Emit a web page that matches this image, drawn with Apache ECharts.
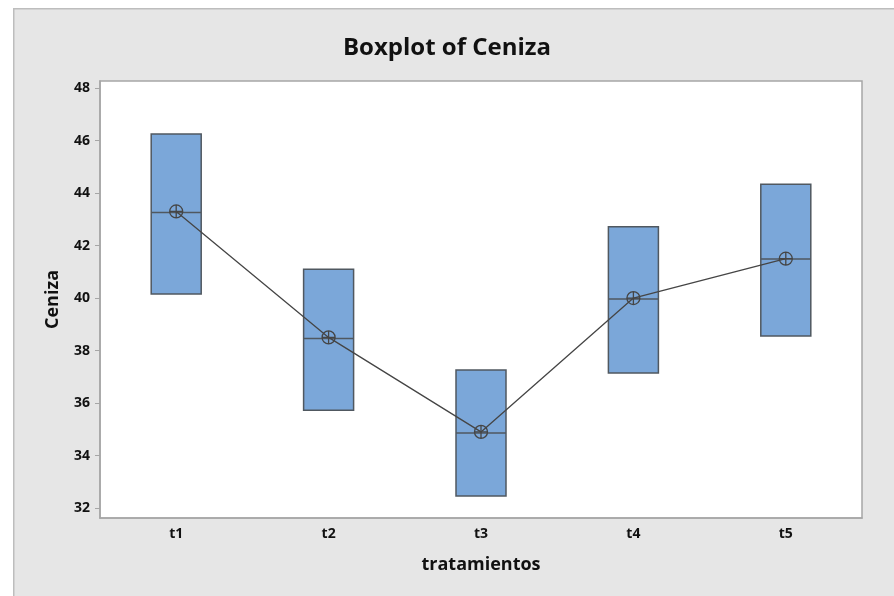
<!DOCTYPE html>
<html>
<head>
<meta charset="utf-8">
<style>html,body{margin:0;padding:0;background:#fff;}#c{width:894px;height:596px;}</style>
<script src="https://cdn.jsdelivr.net/npm/echarts@6/dist/echarts.min.js"></script>
</head>
<body>
<div id="c"></div>
<script>
var categories = ['t1', 't2', 't3', 't4', 't5'];
var q1Values = [40.15, 35.73, 32.46, 37.14, 38.55];
var medianValues = [43.26, 38.46, 34.86, 39.96, 41.49];
var q3Values = [46.25, 41.1, 37.26, 42.72, 44.34];
var meanValues = [43.3, 38.5, 34.9, 40.0, 41.5];
var yTickValues = [32, 34, 36, 38, 40, 42, 44, 46, 48];

var boxData = categories.map(function (c, i) {
  return [q1Values[i], q1Values[i], medianValues[i], q3Values[i], q3Values[i]];
});

var chart = echarts.init(document.getElementById('c'), null, {renderer: 'canvas'});
var font = '"Open Sans", "Noto Sans", sans-serif';
chart.setOption({
  backgroundColor: '#ffffff',
  animation: false,
  graphic: [{
    type: 'rect', left: 13, top: 8, z: -10,
    shape: {width: 900, height: 600},
    style: {fill: '#e6e6e6', stroke: '#bdbdbd', lineWidth: 1.5}
  }],
  title: {
    text: 'Boxplot of Ceniza', left: 'center', top: 31,
    textStyle: {fontFamily: font, fontWeight: 'bold', fontSize: 24, color: '#111'}
  },
  grid: {
    left: 100, right: 32, top: 81, bottom: 78,
    show: true, backgroundColor: '#ffffff', borderColor: '#a6a6a6', borderWidth: 1.5
  },
  xAxis: {
    type: 'category', data: categories, boundaryGap: true,
    name: 'tratamientos', nameLocation: 'middle', nameGap: 38,
    nameTextStyle: {fontFamily: font, fontWeight: 'bold', fontSize: 18, color: '#111'},
    axisLine: {lineStyle: {color: '#a6a6a6', width: 1.5}},
    axisTick: {alignWithLabel: true, length: 5, lineStyle: {color: '#a6a6a6'}},
    axisLabel: {fontFamily: font, fontWeight: 'bold', fontSize: 14, color: '#111', margin: 9},
    splitLine: {show: false}
  },
  yAxis: {
    type: 'value', min: 31.62, max: 48.27,
    name: 'Ceniza', nameLocation: 'middle', nameGap: 38, nameRotate: 90,
    nameTextStyle: {fontFamily: font, fontWeight: 'bold', fontSize: 18, color: '#111'},
    axisLine: {show: true, lineStyle: {color: '#a6a6a6', width: 1.5}},
    axisTick: {show: true, length: 5, customValues: yTickValues, lineStyle: {color: '#a6a6a6'}},
    axisLabel: {fontFamily: font, fontWeight: 'bold', fontSize: 14, color: '#111', margin: 10, customValues: yTickValues},
    splitLine: {show: false}
  },
  series: [{
    type: 'boxplot',
    data: boxData,
    boxWidth: [50, 50],
    itemStyle: {color: '#7ba7d9', borderColor: '#505860', borderWidth: 1.5},
    emphasis: {disabled: true}
  }, {
    type: 'line',
    data: meanValues,
    symbol: 'path://M0,-10A10,10,0,1,1,0,10A10,10,0,1,1,0,-10ZM-10,0L10,0M0,-10L0,10',
    symbolSize: 13,
    lineStyle: {color: '#454545', width: 1.3},
    itemStyle: {color: 'rgba(0,0,0,0)', borderColor: '#454545', borderWidth: 1.3},
    z: 5
  }]
});
</script>
</body>
</html>
